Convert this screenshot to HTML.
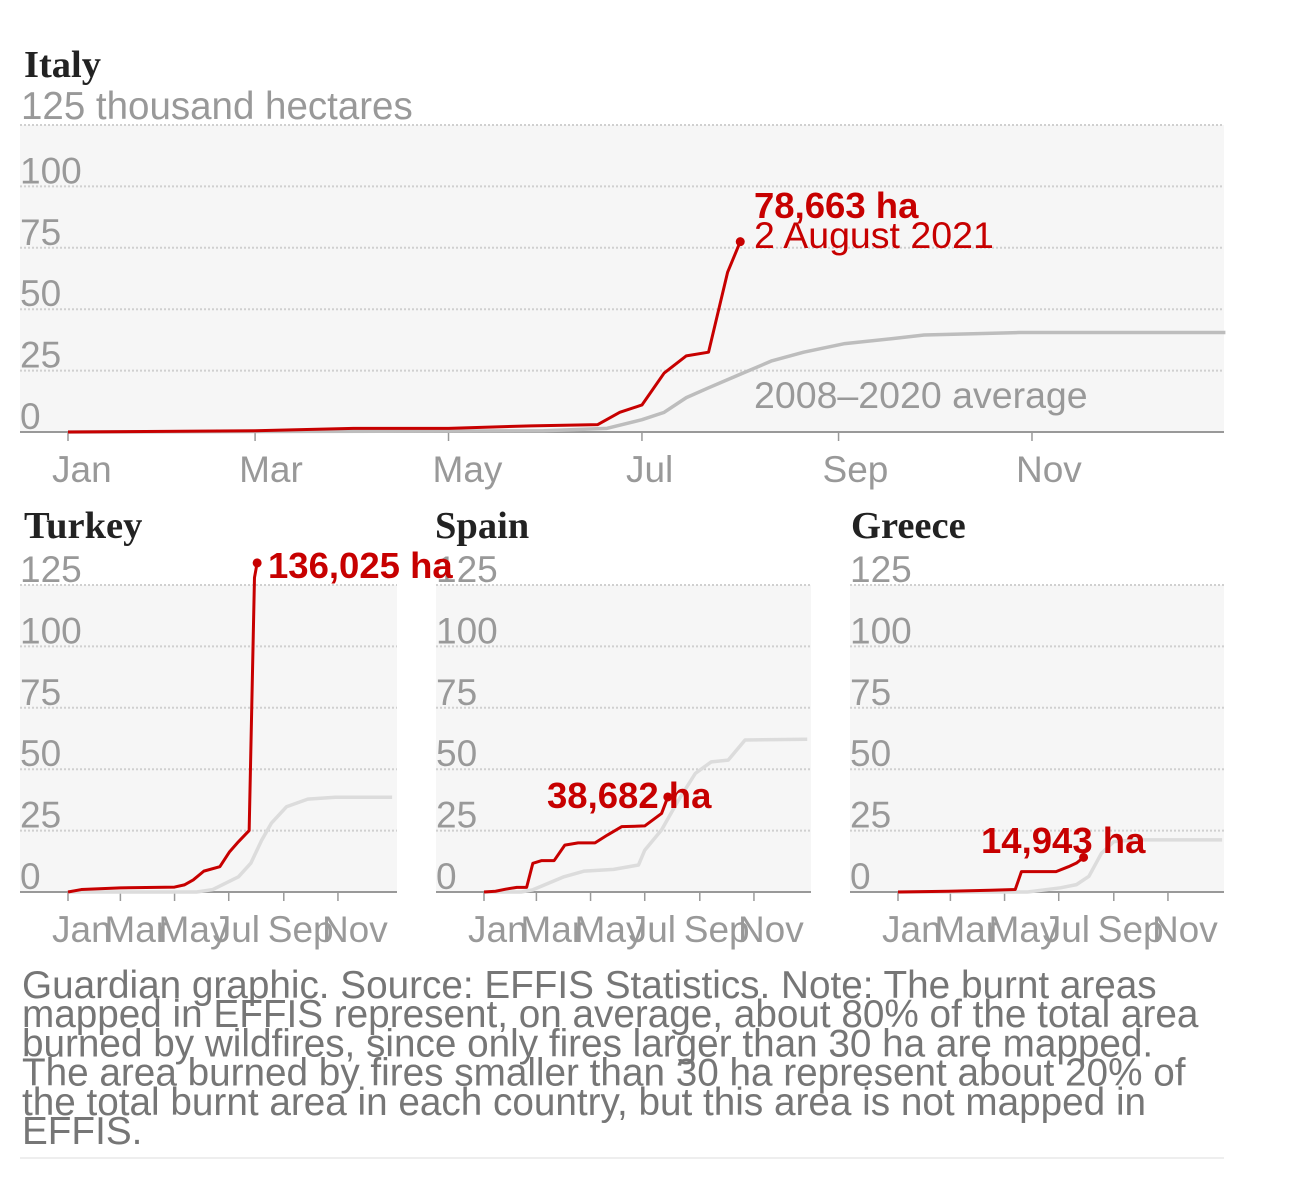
<!DOCTYPE html>
<html><head><meta charset="utf-8">
<style>
html,body{margin:0;padding:0;background:#fff;}
svg{display:block;font-family:"Liberation Sans",sans-serif;}
</style></head>
<body>
<svg id="c" width="1292" height="1194" viewBox="0 0 1292 1194" xmlns="http://www.w3.org/2000/svg"></svg>
<script>
// ---- data (thousand hectares, day-of-year) ----
const monthLabels = ["Jan","Mar","May","Jul","Sep","Nov"];
const monthDays = [0,59,120,181,243,304];
const yTicks = [0,25,50,75,100,125];

const italyDays = [0,59,90,120,146,167,174,181,188,195,202,208,212];
const italyVals = [0,0.5,1.5,1.5,2.5,3,8,11,24,31,32.5,65,77.5];
const italyAvgDays = [0,150,170,181,188,195,202,212,222,232,245,260,270,300,365];
const italyAvgVals = [0,0.5,1.5,5,8,14,18,23.5,29,32.5,36,38,39.5,40.5,40.5];

const turkeyDays = [0,15,59,120,131,141,153,171,182,192,201,204,210,213];
const turkeyVals = [0,1,1.7,2,2.9,4.9,8.5,10.3,16.4,20.5,23.9,25,128,134];
const turkeyAvgDays = [0,145,163,192,206,218,229,246,270,301,365];
const turkeyAvgVals = [0,0,1,6.2,11.8,21,28,34.7,37.8,38.6,38.6];

const spainDays = [0,13,25,37,48,55,65,79,91,106,125,139,155,181,200,207];
const spainVals = [0,0.3,1.2,1.9,1.9,11.7,12.8,12.8,19.1,20,20,23.2,26.6,26.9,32,38.7];
const spainAvgDays = [0,42,55,90,113,146,174,181,200,219,238,256,275,294,364];
const spainAvgVals = [0,0,0.9,6.2,8.5,9.2,11,17,25.3,37.4,48.3,53,53.7,61.9,62.2];

const greeceDays = [0,57,104,132,139,178,192,201,209];
const greeceVals = [0,0.3,0.7,1,8.3,8.3,10.3,11.8,14.1];
const greeceAvgDays = [0,146,183,201,215,229,243,266,365];
const greeceAvgVals = [0,0,1.7,3,6.4,15.7,20.5,21.2,21.2];

const NS="http://www.w3.org/2000/svg";
const svg=document.getElementById('c');
function mk(tag,attrs,parent){const e=document.createElementNS(NS,tag);for(const k in attrs)e.setAttribute(k,attrs[k]);(parent||svg).appendChild(e);return e;}
function txt(s,attrs,parent){const e=mk('text',attrs,parent);e.textContent=s;return e;}

function panel(o){
  const g=mk('g',{});
  
  
  const x0=o.left+48, pxDay=o.pxDay, base=o.base, pxVal=2.456;
  const X=d=>x0+d*pxDay, Y=v=>base-v*pxVal;
  const bg=mk('rect',{x:o.left,y:Y(125),width:o.width,height:base-Y(125),fill:'#f6f6f6'},g);
  
  
  yTicks.forEach(t=>{
    if(t>0){const l=mk('line',{x1:o.left,x2:o.left+o.width,y1:Y(t),y2:Y(t),stroke:'#d0d0d0','stroke-width':2,'stroke-dasharray':'2,2'},g);
      
      }
    if(!(o.unit&&t===125)){
      const lb=txt(String(t),{x:o.left,y:Y(t)-3,fill:'#999','font-size':37},g);
      
      
    }
  });
  monthDays.forEach((d,i)=>{
    const tk=mk('line',{x1:X(d),x2:X(d),y1:base,y2:base+9,stroke:'#999','stroke-width':1.5},g);
    
    
    const lb=txt(monthLabels[i],{x:X(d)-16,y:base+50,fill:'#999','font-size':37},g);
    
    
  });
  const ax=mk('line',{x1:o.left,x2:o.left+o.width,y1:base,y2:base,stroke:'#999','stroke-width':2},g);
  
  
  const avg=mk('polyline',{points:o.ad.map((d,i)=>X(d)+','+Y(o.av[i])).join(' '),fill:'none',stroke:o.avgColor,'stroke-width':3.5,'stroke-linejoin':'round'},g);
  
  
  const red=mk('polyline',{points:o.d.map((d,i)=>X(d)+','+Y(o.v[i])).join(' '),fill:'none',stroke:'#c70000','stroke-width':3,'stroke-linejoin':'round'},g);
  
  
  const n=o.d.length-1;
  const dot=mk('circle',{cx:X(o.d[n]),cy:Y(o.v[n]),r:4.5,fill:'#c70000'},g);
  
  
  return g;
}

panel({name:'italy',left:20,width:1204,pxDay:3.171,base:432,d:italyDays,v:italyVals,ad:italyAvgDays,av:italyAvgVals,avgColor:'#bdbdbd',unit:true});
panel({name:'turkey',left:20,width:377,pxDay:0.888,base:892,d:turkeyDays,v:turkeyVals,ad:turkeyAvgDays,av:turkeyAvgVals,avgColor:'#dcdcdc'});
panel({name:'spain',left:436,width:375,pxDay:0.888,base:892,d:spainDays,v:spainVals,ad:spainAvgDays,av:spainAvgVals,avgColor:'#dcdcdc'});
panel({name:'greece',left:850,width:374,pxDay:0.888,base:892,d:greeceDays,v:greeceVals,ad:greeceAvgDays,av:greeceAvgVals,avgColor:'#dcdcdc'});

function label(s,attrs,name){const t=txt(s,attrs);return t;}
const serif='"Liberation Serif",serif';
label('Italy',{x:24,y:77,'font-size':38.5,'font-weight':'bold','font-family':serif,fill:'#222'},'italy-title');
label('125 thousand hectares',{x:21,y:119,'font-size':38.5,fill:'#999'},'y-axis-unit');
label('78,663 ha',{x:754,y:218,'font-size':36.5,'font-weight':'bold',fill:'#c70000'},'italy-value-annotation');
label('2 August 2021',{x:754,y:248,'font-size':37.5,fill:'#c70000'},'italy-date-annotation');
label('2008–2020 average',{x:754,y:408,'font-size':37.5,fill:'#999'},'average-annotation');
label('Turkey',{x:24,y:538,'font-size':38.5,'font-weight':'bold','font-family':serif,fill:'#222'},'turkey-title');
label('Spain',{x:435,y:538,'font-size':38.5,'font-weight':'bold','font-family':serif,fill:'#222'},'spain-title');
label('Greece',{x:851,y:538,'font-size':38.5,'font-weight':'bold','font-family':serif,fill:'#222'},'greece-title');
label('136,025 ha',{x:268,y:578,'font-size':36.5,'font-weight':'bold',fill:'#c70000'},'turkey-value-annotation');
label('38,682 ha',{x:547,y:808,'font-size':36.5,'font-weight':'bold',fill:'#c70000'},'spain-value-annotation');
label('14,943 ha',{x:981,y:853,'font-size':36.5,'font-weight':'bold',fill:'#c70000'},'greece-value-annotation');

const notes=["Guardian graphic. Source: EFFIS Statistics. Note: The burnt areas","mapped in EFFIS represent, on average, about 80% of the total area","burned by wildfires, since only fires larger than 30 ha are mapped.","The area burned by fires smaller than 30 ha represent about 20% of","the total burnt area in each country, but this area is not mapped in","EFFIS."];
const foot=mk('g',{});


notes.forEach((s,i)=>{const t=txt(s,{x:22,y:998+i*29.2,'font-size':38.7,fill:'#767676'},foot);
  
  });
const rule=mk('line',{x1:20,x2:1224,y1:1158,y2:1158,stroke:'#eee','stroke-width':2});


</script>
</body></html>
